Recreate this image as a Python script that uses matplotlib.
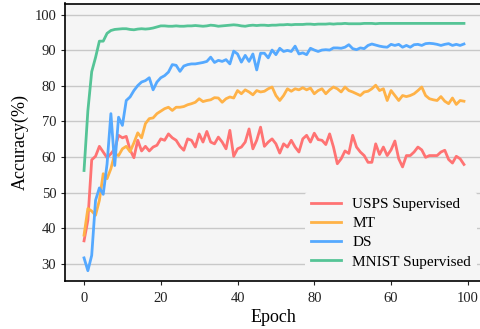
import matplotlib
matplotlib.use("Agg")
import matplotlib.pyplot as plt
import numpy as np

epochs = list(range(100))

usps = [36.4, 42.2, 59.2, 60.2, 63.0, 61.4, 59.8, 60.9, 62.3, 66.1,
        65.4, 65.8, 62.0, 59.8, 64.7, 61.7, 63.0, 61.7, 62.8, 63.3,
        65.1, 64.7, 66.5, 65.4, 64.7, 63.0, 61.9, 65.1, 64.7, 62.8,
        66.5, 64.2, 67.2, 64.2, 63.7, 65.6, 64.2, 62.3, 67.5, 60.2,
        62.3, 62.8, 64.2, 67.9, 62.3, 64.7, 68.4, 63.0, 64.2, 65.1,
        63.7, 61.1, 63.7, 62.8, 64.7, 62.8, 61.4, 65.1, 66.1, 64.2,
        66.7, 64.9, 64.7, 63.5, 66.5, 62.8, 58.1, 59.5, 61.7, 61.0,
        66.1, 62.8, 61.4, 60.4, 58.5, 58.5, 63.7, 60.7, 62.8, 60.4,
        62.0, 64.5, 59.5, 57.2, 60.4, 60.4, 61.4, 62.8, 62.0, 59.9,
        60.4, 60.4, 60.4, 61.4, 61.9, 59.3, 58.3, 60.2, 59.5, 57.9]

mt = [38.0, 45.5, 44.8, 43.6, 47.8, 55.3, 53.9, 56.7, 60.9, 60.4,
      62.3, 63.0, 61.5, 64.0, 66.8, 65.4, 69.4, 70.8, 71.0, 72.2,
      72.9, 73.6, 74.0, 73.1, 74.0, 74.0, 74.2, 74.7, 75.0, 75.4,
      76.4, 75.6, 75.9, 76.1, 76.7, 76.6, 75.4, 76.4, 76.9, 76.6,
      78.7, 77.8, 78.9, 78.3, 77.5, 78.7, 78.3, 78.5, 79.2, 79.7,
      77.3, 75.9, 77.3, 79.2, 78.5, 79.2, 78.9, 79.5, 78.9, 79.4,
      77.8, 78.7, 79.2, 77.8, 78.9, 79.7, 79.2, 78.3, 79.7, 78.7,
      78.3, 77.8, 77.3, 78.3, 78.5, 79.2, 80.2, 78.7, 79.2, 75.9,
      78.7, 77.3, 75.9, 77.3, 77.0, 77.3, 77.8, 78.7, 79.7, 77.3,
      76.4, 76.1, 75.9, 77.0, 75.7, 75.0, 76.6, 74.8, 75.9, 75.7]

ds = [31.6, 28.0, 32.3, 47.8, 51.3, 49.5, 58.0, 72.2, 57.6, 71.2,
      68.9, 75.9, 76.9, 78.7, 80.1, 81.1, 81.5, 82.3, 78.9, 81.1,
      82.3, 82.9, 83.9, 86.0, 85.8, 84.1, 85.6, 86.0, 86.2, 86.2,
      86.4, 86.6, 86.9, 88.1, 86.6, 87.2, 86.9, 87.4, 86.2, 89.8,
      89.0, 86.7, 88.6, 86.9, 89.0, 84.5, 89.2, 89.2, 87.9, 90.1,
      88.8, 90.6, 89.7, 90.0, 89.7, 91.2, 89.0, 89.3, 88.8, 90.6,
      90.1, 89.7, 90.1, 90.2, 90.1, 90.7, 90.7, 90.6, 90.9, 91.6,
      90.5, 90.2, 90.7, 90.5, 91.4, 91.8, 91.5, 91.2, 91.0, 90.9,
      91.7, 91.4, 91.7, 90.9, 91.4, 90.9, 91.6, 91.7, 91.4, 91.9,
      92.0, 91.9, 91.7, 91.4, 91.7, 91.9, 91.4, 91.7, 91.4, 91.8]

mnist = [56.2, 73.0, 84.0, 88.0, 92.6, 92.6, 94.8, 95.6, 95.9, 96.0,
         96.1, 96.1, 95.9, 95.8, 96.0, 96.1, 96.0, 96.1, 96.3, 96.6,
         96.9, 96.9, 96.8, 96.8, 96.9, 96.8, 96.8, 96.9, 96.9, 97.0,
         96.9, 96.8, 96.9, 97.1, 97.0, 96.8, 96.9, 97.0, 97.1, 97.2,
         97.1, 96.9, 96.8, 97.0, 97.1, 97.0, 97.1, 97.1, 97.0, 97.1,
         97.1, 97.2, 97.2, 97.3, 97.2, 97.3, 97.3, 97.3, 97.4, 97.4,
         97.3, 97.4, 97.4, 97.4, 97.5, 97.4, 97.5, 97.5, 97.6, 97.5,
         97.5, 97.5, 97.5, 97.6, 97.6, 97.6, 97.5, 97.6, 97.6, 97.6,
         97.6, 97.6, 97.6, 97.6, 97.6, 97.6, 97.6, 97.6, 97.6, 97.6,
         97.6, 97.6, 97.6, 97.6, 97.6, 97.6, 97.6, 97.6, 97.6, 97.6]

series_names = ["USPS Supervised", "MT", "DS", "MNIST Supervised"]
series_colors = ["#ff7373", "#ffb247", "#55a9ff", "#55c496"]

xtick_pos = [0, 20, 40, 60, 80, 100]
xtick_labels = ["0", "20", "40", "80", "60", "100"]
ytick_pos = [30, 40, 50, 60, 70, 80, 90, 100]

plt.rcParams['font.family'] = ['Liberation Serif', 'DejaVu Serif']

fig = plt.figure(figsize=(4.81, 3.29), dpi=100)
ax = fig.add_axes([65.3/481, 1 - 281/329, (482 - 65.3)/481, (281 - 3.5)/329])
ax.set_facecolor('#f5f5f5')

for vals, name, col in zip([usps, mt, ds, mnist], series_names, series_colors):
    ax.plot(epochs, vals, color=col, lw=2.0, label=name, zorder=3)

ax.set_xlim(-4.88, 103.7)
ax.set_ylim(25.1, 103.2)
ax.set_xticks(xtick_pos)
ax.set_xticklabels(xtick_labels)
ax.set_yticks(ytick_pos)
ax.tick_params(axis='both', labelsize=10.5, length=3, width=0.8, colors='#222222')
ax.tick_params(axis='x', pad=5)
ax.grid(axis='y', color='#c8c8c8', lw=1.0, zorder=0)
ax.set_axisbelow(True)
for s in ax.spines.values():
    s.set_color('black')
    s.set_linewidth(1.2)

ax.set_xlabel("Epoch", fontsize=13, labelpad=3)
ax.set_ylabel("Accuracy(%)", fontsize=13, labelpad=4)

leg = ax.legend(loc='lower right', bbox_to_anchor=(0.988, 0.023), fontsize=11,
                frameon=True, facecolor='#f5f5f5', edgecolor='none', framealpha=1,
                handlelength=2.0, labelspacing=0.35, borderaxespad=0.0,
                handletextpad=0.7)

fig.savefig("out.png", dpi=100)
